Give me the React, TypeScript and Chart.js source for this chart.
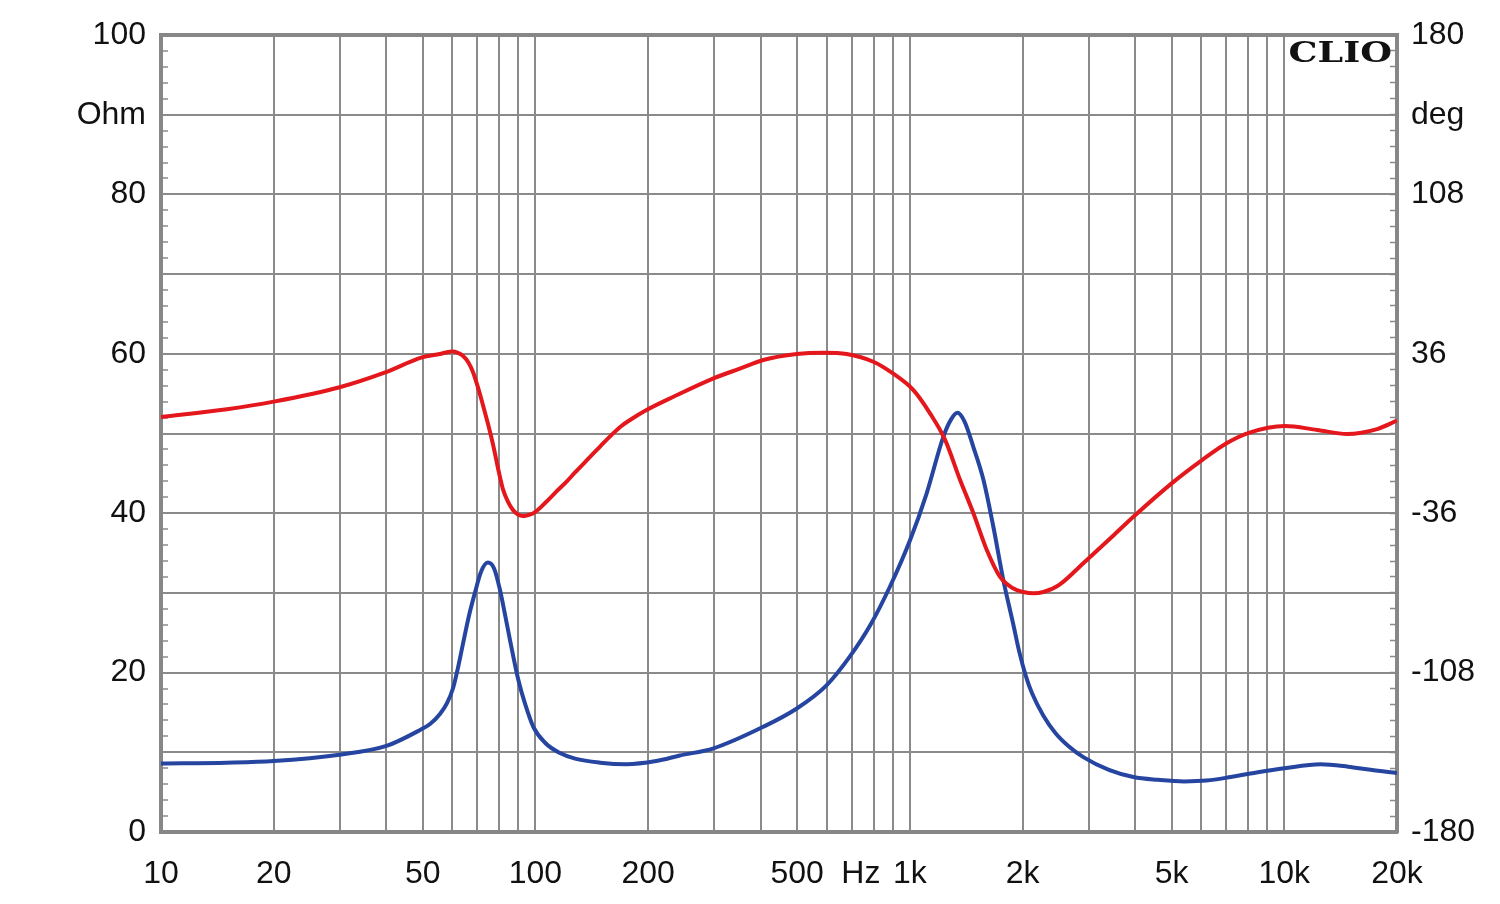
import React, { useEffect, useRef } from 'react';
import { Chart, registerables } from 'chart.js';

Chart.register(...registerables);

// Impedance magnitude (Ohm) vs frequency (Hz)
const impFreq = [10, 15, 20, 30, 40, 49.2, 52.3, 55.6, 58.1, 60.3, 62.1, 64.1, 66.5, 69.0, 71.5, 74.6, 77.5, 80.4, 83.0, 85.5, 90.0, 93.8, 98.7, 106.1, 116.3, 127.6, 148.8, 175, 210, 243, 299, 406, 499, 599, 691, 785, 885, 1001, 1109, 1229, 1290, 1340, 1400, 1478, 1572, 1671, 1777, 1890, 1960, 2040, 2120, 2273, 2450, 2650, 2906, 3400, 3954, 4600, 5400, 6200, 7200, 8500, 10000, 12500, 14800, 17000, 20000];
const impOhm = [8.6, 8.7, 8.9, 9.7, 10.8, 12.8, 13.55, 14.8, 16.2, 18.1, 20.6, 23.7, 27.2, 30.1, 32.6, 33.8, 33.1, 30.4, 27.2, 24.1, 19.1, 16.1, 13.2, 11.2, 9.9, 9.2, 8.7, 8.5, 8.9, 9.6, 10.5, 13.2, 15.5, 18.4, 22.0, 26.0, 30.8, 36.6, 42.5, 49.6, 51.8, 52.6, 51.5, 48.3, 44.2, 38.3, 31.6, 26.0, 22.6, 19.6, 17.4, 14.6, 12.4, 10.8, 9.4, 7.8, 6.9, 6.55, 6.35, 6.45, 6.9, 7.5, 8.0, 8.5, 8.2, 7.8, 7.4];

// Impedance phase (deg) vs frequency (Hz)
const phaseFreq = [10, 15, 20, 30, 39.7, 49.8, 55.6, 57.7, 59.9, 62.1, 64.1, 66.1, 68.1, 70.3, 72.4, 74.6, 77.1, 78.9, 80.4, 82.0, 84.5, 87.1, 89.8, 92.7, 96.1, 99.8, 106.1, 113.5, 121.5, 127.6, 139.9, 148.8, 160.2, 169.7, 178.9, 198, 233.7, 299, 350, 406, 499, 587.6, 678, 799, 903, 1022, 1132, 1242, 1362, 1478, 1605, 1742, 1880, 2009, 2140, 2273, 2500, 2906, 3450, 3954, 5012, 6030, 7030, 8000, 10040, 12240, 14720, 17700, 20000];
const phaseDeg = [7.5, 11, 14.4, 20.9, 27.6, 34.4, 35.9, 36.6, 37.0, 36.4, 35.0, 32.3, 27.8, 20.6, 12.9, 4.7, -5.2, -13.3, -19.6, -25.5, -30.9, -34.6, -36.6, -37.3, -36.8, -35.5, -31.4, -26.4, -21.5, -17.6, -10.6, -5.9, -0.4, 3.4, 6.1, 10.6, 16.6, 24.9, 29.2, 33.2, 35.9, 36.5, 35.9, 32.4, 27, 19.6, 9.1, -2.9, -21, -36, -52.6, -64.8, -69.8, -71.6, -72.2, -71.6, -68.5, -58.6, -47, -37.6, -22.4, -12, -4.3, 0.2, 3.4, 1.6, -0.2, 2.0, 5.8];

// Axis tick labels
const xLabelValues = [10, 20, 50, 100, 200, 500, 1000, 2000, 5000, 10000, 20000];
const xLabelTexts = ['10', '20', '50', '100', '200', '500', '1k', '2k', '5k', '10k', '20k'];
const xUnitValue = 740;
const xUnitText = 'Hz';
const xDecades = [10, 100, 1000, 10000];
const xMultiples = [1, 2, 3, 4, 5, 6, 7, 8, 9];

const ohmLabelValues = [0, 20, 40, 60, 80, 100];
const ohmUnitValue = 90;
const ohmUnitText = 'Ohm';
const degLabelValues = [-180, -108, -36, 36, 108, 180];
const degUnitValue = 144;
const degUnitText = 'deg';
const brandText = 'CLIO';

const GRID = '#8a8a8a';
const FRAME = '#878787';
const TEXT = '#111111';
const FONT = { family: '"Liberation Sans", Arial, sans-serif', size: 32 };

function xTickValues(): number[] {
  const vals: number[] = [];
  xDecades.forEach((d) => xMultiples.forEach((m) => {
    const v = d * m;
    if (v <= 20000) vals.push(v);
  }));
  vals.push(xUnitValue);
  return vals.sort((a, b) => a - b);
}

function ohmTickValues(): number[] {
  const vals: number[] = [];
  for (let v = 0; v <= 100; v += 2) vals.push(v);
  return vals;
}

function degTickValues(): number[] {
  const vals: number[] = [];
  for (let k = 0; k <= 50; k++) vals.push(Math.round((-180 + k * 7.2) * 10) / 10);
  return vals;
}

const clioPlugin = {
  id: 'clioBrand',
  afterDraw(chart: any) {
    const { ctx, chartArea } = chart;
    ctx.save();
    ctx.font = 'bold 27px "DejaVu Serif", serif';
    ctx.fillStyle = TEXT;
    ctx.textAlign = 'right';
    ctx.textBaseline = 'alphabetic';
    ctx.translate(chartArea.right - 5, chartArea.top + 27);
    ctx.scale(1.35, 1);
    ctx.fillText(brandText, 0, 0);
    ctx.restore();
  },
};

function fitVertical(width: number) {
  return (scale: any) => {
    scale.width = width;
    scale.paddingTop = 0;
    scale.paddingBottom = 0;
  };
}

export default function App() {
  const ref = useRef<HTMLCanvasElement>(null);

  useEffect(() => {
    const canvas = ref.current;
    if (!canvas) return;
    const chart = new Chart(canvas, {
      type: 'line',
      data: {
        datasets: [
          {
            label: 'Phase',
            data: phaseFreq.map((f, i) => ({ x: f, y: phaseDeg[i] })),
            borderColor: '#e3171c',
            borderWidth: 4,
            pointRadius: 0,
            cubicInterpolationMode: 'monotone',
            xAxisID: 'x',
            yAxisID: 'y2',
          },
          {
            label: 'Impedance',
            data: impFreq.map((f, i) => ({ x: f, y: impOhm[i] })),
            borderColor: '#2545a0',
            borderWidth: 4,
            pointRadius: 0,
            cubicInterpolationMode: 'monotone',
            xAxisID: 'x',
            yAxisID: 'y',
          },
        ],
      },
      options: {
        animation: false,
        responsive: false,
        devicePixelRatio: 1,
        layout: { padding: { top: 35, left: 0, right: 0, bottom: 0 } },
        plugins: { legend: { display: false }, tooltip: { enabled: false }, title: { display: false } },
        scales: {
          x: {
            type: 'logarithmic',
            position: 'bottom',
            min: 10,
            max: 20000,
            afterBuildTicks: (scale: any) => {
              scale.ticks = xTickValues().map((v) => ({ value: v }));
            },
            afterFit: (scale: any) => {
              scale.height = 72;
              scale.paddingLeft = 0;
              scale.paddingRight = 0;
            },
            ticks: {
              autoSkip: false,
              maxRotation: 0,
              minRotation: 0,
              padding: 23,
              color: TEXT,
              font: FONT,
              callback: (value: any) => {
                const v = Number(value);
                if (v === xUnitValue) return xUnitText;
                const idx = xLabelValues.indexOf(v);
                return idx >= 0 ? xLabelTexts[idx] : '';
              },
            },
            grid: {
              drawTicks: false,
              lineWidth: 2,
              color: (ctx: any) => (ctx.tick && ctx.tick.value === xUnitValue ? 'rgba(0,0,0,0)' : GRID),
            },
            border: { display: true, width: 4, color: FRAME },
          },
          xTop: {
            type: 'linear',
            position: 'top',
            min: 0,
            max: 1,
            afterFit: (scale: any) => {
              scale.height = 0;
              scale.paddingLeft = 0;
              scale.paddingRight = 0;
            },
            ticks: { display: false },
            grid: { drawOnChartArea: false, drawTicks: false },
            border: { display: true, width: 4, color: FRAME },
          },
          y: {
            type: 'linear',
            position: 'left',
            min: 0,
            max: 100,
            afterBuildTicks: (scale: any) => {
              scale.ticks = ohmTickValues().map((v) => ({ value: v }));
            },
            afterFit: fitVertical(161),
            ticks: {
              autoSkip: false,
              padding: 22,
              color: TEXT,
              font: FONT,
              callback: (value: any) => {
                const v = Number(value);
                if (v === ohmUnitValue) return ohmUnitText;
                return ohmLabelValues.indexOf(v) >= 0 ? String(v) : '';
              },
            },
            grid: {
              drawTicks: true,
              tickLength: -7,
              tickWidth: 1.5,
              tickColor: GRID,
              lineWidth: 2,
              color: (ctx: any) => (ctx.tick && ctx.tick.value % 10 === 0 ? GRID : 'rgba(0,0,0,0)'),
            },
            border: { display: true, width: 4, color: FRAME },
          },
          y2: {
            type: 'linear',
            position: 'right',
            min: -180,
            max: 180,
            afterBuildTicks: (scale: any) => {
              scale.ticks = degTickValues().map((v) => ({ value: v }));
            },
            afterFit: fitVertical(103),
            ticks: {
              autoSkip: false,
              padding: 21,
              color: TEXT,
              font: FONT,
              callback: (value: any) => {
                const v = Number(value);
                if (v === degUnitValue) return degUnitText;
                return degLabelValues.indexOf(v) >= 0 ? String(v) : '';
              },
            },
            grid: {
              drawOnChartArea: false,
              drawTicks: true,
              tickLength: -7,
              tickWidth: 1.5,
              tickColor: GRID,
            },
            border: { display: true, width: 4, color: FRAME },
          },
        },
      },
      plugins: [clioPlugin],
    } as any);
    return () => chart.destroy();
  }, []);

  return (
    <div style={{ position: 'absolute', left: 0, top: 0, width: 1500, height: 904, background: '#ffffff' }}>
      <canvas ref={ref} width={1500} height={904} style={{ display: 'block', width: 1500, height: 904 }} />
    </div>
  );
}
